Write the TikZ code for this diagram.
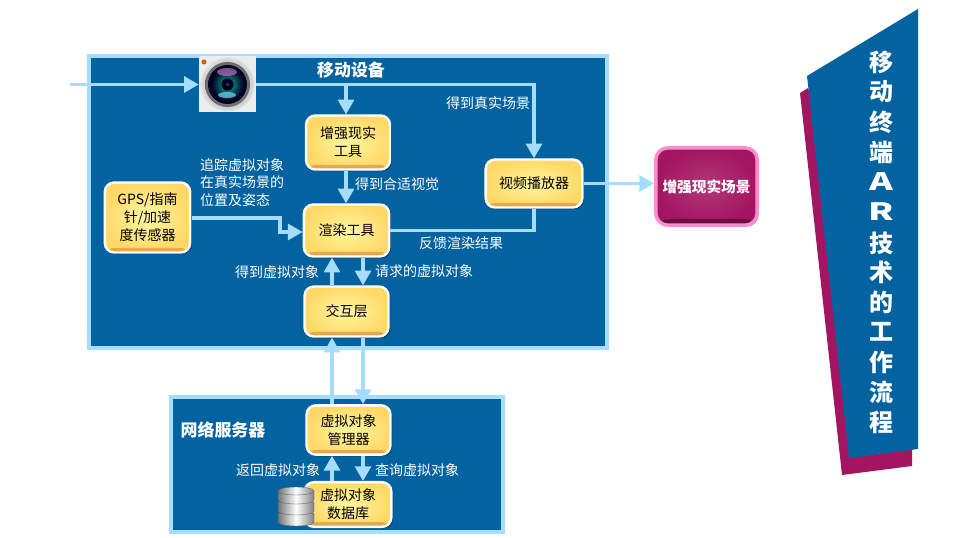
\documentclass[tikz,border=0pt]{standalone}
\usepackage{fontspec}
\setmainfont{Noto Sans CJK SC}
\usetikzlibrary{arrows.meta, shadows}
\definecolor{panelblue}{RGB}{3,98,160}
\definecolor{linkblue}{RGB}{166,220,255}
\definecolor{barred}{RGB}{163,21,96}
\definecolor{barpink}{RGB}{255,140,205}
\definecolor{yelin}{RGB}{255,247,160}
\definecolor{yelout}{RGB}{255,217,104}
\definecolor{yeledge}{RGB}{226,165,78}
\tikzset{
    panel/.style={draw=linkblue, line width=2.6pt, fill=panelblue, drop shadow={shadow xshift=1.5pt, shadow yshift=-1.5pt, fill=black, opacity=0.45}},
    yelbox/.style={draw=white, line width=1.8pt, rounded corners=7pt, inner color=yelin, outer color=yelout, align=center, font=\fontsize{10.5}{13.5}\selectfont, inner sep=0pt,
        drop shadow={shadow xshift=1.2pt, shadow yshift=-1.2pt, fill=black, opacity=0.4},
        path picture={\shade[top color=yelout, bottom color=yeledge] ([yshift=3.5pt]path picture bounding box.south west) rectangle (path picture bounding box.south east);}},
    pinkbox/.style={draw=barpink, line width=2.6pt, rounded corners=9pt, inner color=barred!85!white, outer color=barred, text=white, font=\fontsize{11}{13}\selectfont\bfseries, inner sep=0pt,
        drop shadow={shadow xshift=1.2pt, shadow yshift=-1.2pt, fill=black, opacity=0.3},
        path picture={\shade[top color=barred, bottom color=barred!65!black] ([yshift=4.5pt]path picture bounding box.south west) rectangle (path picture bounding box.south east);}},
    flow/.style={draw=linkblue, line width=2.3pt, -{Triangle[width=12pt, length=11pt]}},
    plain/.style={draw=linkblue, line width=2.3pt},
    lab/.style={text=white, font=\fontsize{10.5}{13}\selectfont, inner sep=0pt},
    headlab/.style={text=white, font=\fontsize{12.7}{15}\selectfont\bfseries, inner sep=0pt},
    sidelab/.style={text=white, font=\fontsize{18}{18}\selectfont\bfseries, inner sep=0pt},
    silver/.style={left color=black!55, right color=black!50, middle color=white, draw=black!60, line width=0.3pt}
}
\begin{document}
\begin{tikzpicture}[x=0.75pt, y=-0.75pt]
    \useasboundingbox (0, 0) rectangle (980, 538);
    % panels
    \path[panel] (89, 56) rectangle (607, 348);
    \path[panel] (171, 397) rectangle (503, 532);
    \node[headlab] (mobile) at (351, 70) {移动设备};
    \node[headlab] (server) at (223, 430) {网络服务器};
    % side banner
    \fill[barred] (800, 93) -- (808, 88) -- (912, 440) -- (912, 466) -- (842, 475) -- cycle;
    \fill[panelblue] (807, 76) -- (918, 9) -- (918, 449) -- (849, 458) -- cycle;
    \foreach \ch/\y/\nm in {移/62/a, 动/92/b, 终/122/c, 端/152/d, 技/243/g, 术/272/h, 的/302/i, 工/332/j, 作/362/k, 流/392/l, 程/422/m}
        \node[sidelab] (side\nm) at (881, \y) {\ch};
    \node[sidelab] (sidee) at (881, 182) {\scalebox{1.5}[1]{A}};
    \node[sidelab] (sidef) at (881, 212) {\scalebox{1.5}[1]{R}};
    % camera
    \node[fill=black!7, minimum width=42.75pt, minimum height=42pt, inner sep=0pt] (cam) at (227.5, 84.5) {};
    \shade[inner color=black!55, outer color=black!12] (cam.center) circle (27);
    \shade[inner color=black!20, outer color=black!60] (cam.center) circle (22.5);
    \fill[black!85!blue] (cam.center) circle (19.5);
    \shade[inner color=cyan!70!black, outer color=black!90!blue] (cam.center) circle (16);
    \fill[violet!55!white, opacity=0.7] (227, 72) ellipse (10 and 4);
    \fill[cyan!50!white, opacity=0.7] (227, 95) ellipse (9 and 3);
    \fill[black] (cam.center) circle (6);
    \fill[blue!80!white] (cam.center) circle (1.5);
    \fill[orange!80!black] (204, 62) circle (2.5);
    % boxes
    \node[yelbox, minimum width=63pt, minimum height=40.5pt] (ar) at (348, 142.5) {增强现实\\工具};
    \node[yelbox, minimum width=64pt, minimum height=39pt] (render) at (346.5, 230.5) {渲染工具};
    \node[yelbox, minimum width=63pt, minimum height=37.5pt] (inter) at (346.5, 311.5) {交互层};
    \node[yelbox, minimum width=64pt, minimum height=52.5pt] (gps) at (147.5, 217.5) {GPS/指南\\针/加速\\度传感器};
    \node[yelbox, minimum width=72.5pt, minimum height=36pt] (player) at (534, 183.5) {视频播放器};
    \node[yelbox, minimum width=63pt, minimum height=37pt] (manager) at (348.5, 430) {虚拟对象\\管理器};
    \node[yelbox, minimum width=65pt, minimum height=33.5pt] (store) at (348, 504.5) {虚拟对象\\数据库};
    \node[pinkbox, minimum width=76pt, minimum height=58pt] (scene) at (706.5, 186.5) {增强现实场景};
    % database icon
    \foreach \y in {513, 502, 491} {
        \path[silver] (278, \y) -- (278, \y+9) arc (180:0:18 and 4) -- (314, \y) -- cycle;
    }
    \path[silver] (296, 491) ellipse (18 and 4);
    % links
    \coordinate (src) at (70, 84.5);
    \coordinate (tap) at (346, 84.5);
    \coordinate (upx) at (332, 0);
    \coordinate (downx) at (363, 0);
    \draw[flow] (src) -- (cam.west);
    \draw[flow] (cam.east) -| (player.north);
    \draw[flow] (tap) -- (ar.north -| tap);
    \draw[flow] (ar.south -| tap) -- (render.north -| tap);
    \coordinate (gpsout) at (192, 218);
    \coordinate (gpsbend) at (280, 232);
    \draw[flow] (gpsout) -| (gpsbend) -- (render.west |- gpsbend);
    \draw[plain] (player.south) |- (render.east);
    \draw[flow] (player.east) -- (scene.west |- player.east);
    \draw[flow] (inter.north -| upx) -- (render.south -| upx);
    \draw[flow] (render.south -| downx) -- (inter.north -| downx);
    \draw[flow] (manager.north -| upx) -- (inter.south -| upx);
    \draw[flow] (inter.south -| downx) -- (manager.north -| downx);
    \draw[flow] (store.north -| upx) -- (manager.south -| upx);
    \draw[flow] (manager.south -| downx) -- (store.north -| downx);
    % labels
    \node[lab] (lreal) at (488, 103) {得到真实场景};
    \node[lab] (lview) at (397, 184) {得到合适视觉};
    \node[lab, align=left, font=\fontsize{10.5}{13}\selectfont] (ltrack) at (242, 182.5) {追踪虚拟对象\\在真实场景的\\位置及姿态};
    \node[lab] (lback) at (461, 243) {反馈渲染结果};
    \node[lab] (lget) at (277, 272) {得到虚拟对象};
    \node[lab] (lask) at (424, 271) {请求的虚拟对象};
    \node[lab] (lret) at (278, 470) {返回虚拟对象};
    \node[lab] (lqry) at (417, 470) {查询虚拟对象};
\end{tikzpicture}
\end{document}
